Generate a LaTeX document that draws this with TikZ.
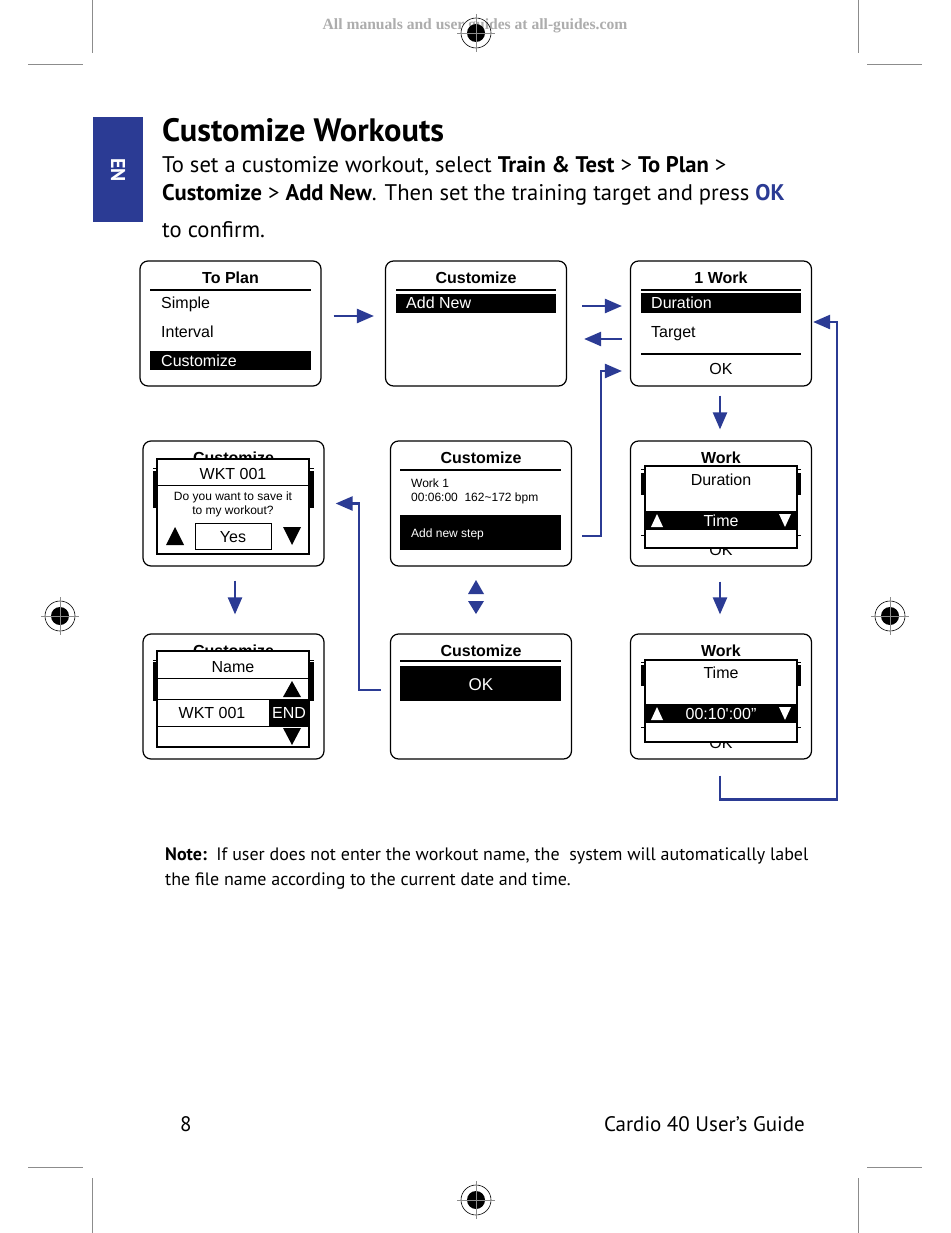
\documentclass[tikz,border=0pt]{standalone}
\usepackage{fontspec}
\usepackage{tikz}
\usetikzlibrary{arrows.meta,calc}
\setmainfont{PT Sans}
\newfontfamily\arialfont{Liberation Sans}
\newfontfamily\wmfont{Liberation Serif}
\definecolor{guideblue}{rgb}{0.17, 0.23, 0.58}
\definecolor{markgray}{rgb}{0.55, 0.55, 0.55}

\begin{document}
\begin{tikzpicture}[x=1pt,y=-1pt,
    screen/.style={draw,rounded corners=8pt,line width=1.2pt,minimum width=181pt,minimum height=125pt,inner sep=0pt},
    popup/.style={draw,fill=white,line width=1.8pt},
    rule/.style={line width=1.5pt},
    thinrule/.style={line width=0.8pt},
    stitle/.style={font=\arialfont\bfseries\fontsize{16}{18}\selectfont,anchor=base,inner sep=0pt},
    sitem/.style={font=\arialfont\fontsize{16}{18}\selectfont,anchor=base west,inner sep=0pt},
    sline/.style={font=\arialfont\fontsize{16}{18}\selectfont,anchor=base,inner sep=0pt},
    ssmall/.style={font=\arialfont\fontsize{12}{14}\selectfont,anchor=base west,inner sep=0pt},
    flow/.style={draw=guideblue,line width=2.4pt,-{Triangle[length=17pt,width=14pt]}},
    page/.style={font=\fontsize{22.6}{26}\selectfont,anchor=base west,inner sep=0pt}]
                %Page
                \fill[white] (0,0) rectangle (950,1233);
                \useasboundingbox (0,0) rectangle (950,1233);
                %Crop marks
                \draw[markgray,line width=0.8pt] (92,0)--(92,53) (858,0)--(858,53) (28,64)--(83,64) (867,64)--(922,64);
                \draw[markgray,line width=0.8pt] (92,1178)--(92,1233) (858,1178)--(858,1233) (28,1167)--(83,1167) (867,1167)--(922,1167);
                \node[font=\wmfont\bfseries\fontsize{15.6}{17}\selectfont,text=black!32] (wm) at (475,26) {All manuals and user guides at all-guides.com};
                \foreach \mx/\my in {476/33,476/1200,60/616,890/616}{
                    \draw[line width=0.6pt] (\mx,\my) circle (15);
                    \fill (\mx,\my) circle (9);
                    \draw[markgray,line width=0.6pt] (\mx-19,\my)--(\mx+19,\my) (\mx,\my-19)--(\mx,\my+19);
                }
                %Header
                \fill[guideblue] (93,117) rectangle (143,222);
                \node[rotate=-90,text=white,font=\bfseries\fontsize{20}{22}\selectfont] (en) at (118,170) {EN};
                \node[page,font=\bfseries\fontsize{32.4}{36}\selectfont] (title) at (162,142) {Customize Workouts};
                \node[page] (intro1) at (162,173) {To set a customize workout, select \textbf{Train \& Test} > \textbf{To Plan} >};
                \node[page] (intro2) at (162,201) {\textbf{Customize} > \textbf{Add New}. Then set the training target and press \textcolor{guideblue}{\textbf{OK}}};
                \node[page] (intro3) at (162,238) {to confirm.};
                %Screens
                \node[screen] (toplan) at (230.5,323.5) {};
                \node[screen] (addnew) at (476,323.5) {};
                \node[screen] (onework) at (721,323.5) {};
                \node[screen] (savewkt) at (233.5,503.5) {};
                \node[screen] (addstep) at (481,503.5) {};
                \node[screen] (worktype) at (721,503.5) {};
                \node[screen] (wktname) at (233.5,696.5) {};
                \node[screen] (custok) at (481,696.5) {};
                \node[screen] (worktime) at (721,696.5) {};
                %To Plan
                \node[stitle] at (230.5,283) {To Plan};
                \draw[rule] (150,290)--(311,290);
                \node[sitem] at (161,308) {Simple};
                \node[sitem] at (161,337) {Interval};
                \fill (150,351) rectangle (311,370);
                \node[sitem,text=white] at (161,366) {Customize};
                %Add New
                \node[stitle] at (476,283) {Customize};
                \draw[rule] (396,290)--(556,290);
                \fill (396,294) rectangle (556,313);
                \node[sitem,text=white] at (406,308) {Add New};
                %1 Work
                \node[stitle] at (721,283) {1 Work};
                \draw[rule] (641,290)--(801,290);
                \fill (641,293) rectangle (801,313);
                \node[sitem,text=white] at (651,308) {Duration};
                \node[sitem] at (651,337) {Target};
                \draw[rule] (641,354)--(801,354);
                \node[sline] at (721,374) {OK};
                %Save dialog
                \node[stitle] at (233.5,463) {Customize};
                \draw[thinrule] (153,468)--(314,468);
                \fill (153,471) rectangle (314,508);
                \draw[popup] (157,459) rectangle (309,554);
                \node[sline] at (233,479) {WKT 001};
                \draw[thinrule] (157,485)--(309,485);
                \node[ssmall,anchor=base] at (233,500) {Do you want to save it};
                \node[ssmall,anchor=base] at (233,514) {to my workout?};
                \fill (166,545)--(175,527)--(184,545)--cycle;
                \draw[line width=1pt] (195,523) rectangle (271,549);
                \node[sline] at (233,542) {Yes};
                \fill (283,527)--(301,527)--(292,545)--cycle;
                %Add new step
                \node[stitle] at (481,463) {Customize};
                \draw[rule] (400,470)--(561,470);
                \node[ssmall] at (411,487) {Work 1};
                \node[ssmall] at (411,501) {00:06:00~~162\textasciitilde172 bpm};
                \fill (400,515) rectangle (561,550);
                \node[ssmall,text=white] at (411,537) {Add new step};
                %Work type
                \node[stitle] at (721,463) {Work};
                \draw[thinrule] (641,469)--(801,469);
                \fill (641,473) rectangle (801,495);
                \draw[thinrule] (641,535)--(801,535);
                \node[sline] at (721,555) {OK};
                \draw[popup] (645,466) rectangle (797,548);
                \node[sline] at (721,485) {Duration};
                \fill (645,511) rectangle (797,530);
                \node[sline,text=white] at (721,526) {Time};
                \fill[white] (651,527)--(657,514)--(663,527)--cycle;
                \fill[white] (779,514)--(791,514)--(785,527)--cycle;
                %Name
                \node[stitle] at (233.5,656) {Customize};
                \draw[thinrule] (153,660)--(314,660);
                \fill (153,662) rectangle (314,701);
                \draw[popup] (157,651) rectangle (309,747);
                \node[sline] at (233,672) {Name};
                \draw[thinrule] (157,678)--(309,678);
                \fill (283,697)--(292,681)--(301,697)--cycle;
                \draw[thinrule] (157,699)--(309,699);
                \node[sline] at (212,718) {WKT 001};
                \fill (269,699) rectangle (309,726);
                \node[sline,text=white] at (289,718) {END};
                \draw[thinrule] (157,726)--(309,726);
                \fill (283,728)--(301,728)--(292,745)--cycle;
                %Confirm
                \node[stitle] at (481,656) {Customize};
                \draw[rule] (400,661)--(561,661);
                \fill (400,666) rectangle (561,701);
                \node[sline,text=white,font=\arialfont\fontsize{17}{19}\selectfont] at (481,690) {OK};
                %Work time
                \node[stitle] at (721,656) {Work};
                \draw[thinrule] (641,662)--(801,662);
                \fill (641,665) rectangle (801,686);
                \draw[thinrule] (641,727)--(801,727);
                \node[sline] at (721,748) {OK};
                \draw[popup] (645,660) rectangle (797,742);
                \node[sline] at (721,678) {Time};
                \fill (645,704) rectangle (797,723);
                \node[sline,text=white] at (721,719) {00:10':00”};
                \fill[white] (651,720)--(657,707)--(663,720)--cycle;
                \fill[white] (779,707)--(791,707)--(785,720)--cycle;
                %Arrows
                \draw[flow] ($(toplan.east)+(12,-7.5)$)--($(addnew.west)+(-11,-7.5)$);
                \draw[flow] ($(addnew.east)+(15,-17.5)$)--($(onework.west)+(-8,-17.5)$);
                \draw[flow] ($(onework.west)+(-8,15.5)$)--($(addnew.east)+(17,15.5)$);
                \draw[flow] ($(addstep.east)+(10,32.5)$)--++(19,0)|-($(onework.west)+(-8,47.5)$);
                \draw[flow] ($(onework.south)+(-1,9)$)--($(worktype.north)+(-1,-11)$);
                \draw[flow] ($(worktype.south)+(-1,15)$)--($(worktime.north)+(-1,-19)$);
                \draw[flow] ($(savewkt.south)+(1.5,14)$)--($(wktname.north)+(1.5,-19)$);
                \draw[flow] ($(custok.west)+(-9,-6.5)$)--++(-22,0)|-($(savewkt.east)+(11,0)$);
                \draw[flow] ($(worktime.south)+(-1,16)$)--++(0,24)--++(117,0)|-($(onework.east)+(1,-1.5)$);
                \fill[guideblue] (468,594)--(476,580)--(484,594)--cycle;
                \fill[guideblue] (468,601)--(484,601)--(476,614)--cycle;
                %Note and footer
                \node[page,font=\fontsize{18}{21}\selectfont] (note1) at (165,860) {\textbf{Note:}\ \ If user does not enter the workout name, the \ system will automatically label};
                \node[page,font=\fontsize{18}{21}\selectfont] (note2) at (165,885) {the file name according to the current date and time.};
                \node[page,font=\fontsize{21}{24}\selectfont] (pagenum) at (180,1131) {8};
                \node[page,font=\fontsize{21}{24}\selectfont,anchor=base east] (guide) at (805,1131) {Cardio 40 User’s Guide};
            \end{tikzpicture}
\end{document}
